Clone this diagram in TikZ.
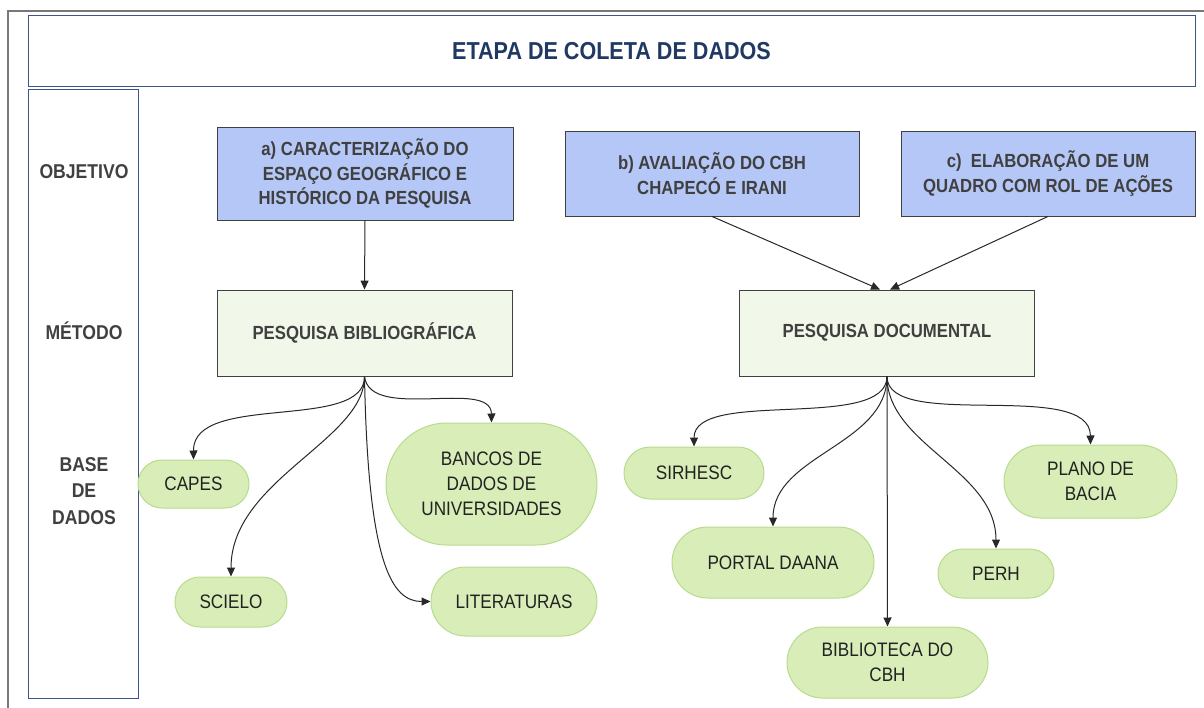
\documentclass[tikz,border=0pt]{standalone}
\usepackage{fontspec}
\setmainfont{Liberation Sans}[FakeStretch=0.88]
\usetikzlibrary{shapes.misc,arrows.meta}
\newcommand\fsz[2]{\fontsize{#1}{#2}\selectfont}
\definecolor{navy}{RGB}{60,85,140}
\definecolor{titlecol}{RGB}{31,56,100}
\definecolor{objblue}{RGB}{180,199,247}
\definecolor{boxgray}{RGB}{64,64,64}
\definecolor{txtgray}{RGB}{64,64,64}
\definecolor{metfill}{RGB}{241,247,233}
\definecolor{pillfill}{RGB}{216,237,184}
\definecolor{pillline}{RGB}{183,221,140}
\definecolor{pilltxt}{RGB}{34,34,34}
\definecolor{arrcol}{RGB}{40,40,40}
\definecolor{framecol}{RGB}{120,120,120}
\begin{document}
\begin{tikzpicture}[x=1pt,y=-1pt,
  frame/.style={draw=navy,line width=1pt,inner sep=0},
  objbox/.style={draw=boxgray,fill=objblue,line width=0.9pt,align=center,text=txtgray,
    font=\fsz{19}{24.5}\bfseries,inner sep=0},
  metbox/.style={draw=boxgray,fill=metfill,line width=0.9pt,align=center,text=txtgray,
    font=\fsz{19}{24.5}\bfseries,inner sep=0,minimum width=295pt,minimum height=86pt},
  pill/.style={rounded rectangle,draw=pillline,fill=pillfill,line width=1pt,align=center,
    text=pilltxt,font=\fsz{19.5}{25},inner sep=0},
  lbl/.style={align=center,text=txtgray,font=\fsz{20}{26.5}\bfseries,inner sep=0},
  arr/.style={draw=arrcol,line width=1pt,-{Triangle[length=9pt,width=8pt]}}]
\useasboundingbox (0,0) rectangle (1204,708);
% outer frame (only top and left visible)
\draw[framecol,line width=1.2pt] (8,720) -- (8,11) -- (1215,11);
% title and left column
\node[frame,minimum width=1167pt,minimum height=71pt,text=titlecol,font=\fsz{24.5}{28}\bfseries] (title) at (611.5,51.5) {ETAPA DE COLETA DE DADOS};
\node[frame,minimum width=110pt,minimum height=608pt] (col) at (83,394) {};
\node[lbl] (lobj) at (84,172) {OBJETIVO};
\node[lbl] (lmet) at (84,331) {MÉTODO};
\node[lbl] (lbase) at (84,491) {BASE\\DE\\DADOS};
% objectives
\node[objbox,minimum width=296pt,minimum height=93pt] (a) at (365,173.5) {a) CARACTERIZAÇÃO DO\\ESPAÇO GEOGRÁFICO E\\HISTÓRICO DA PESQUISA};
\node[objbox,minimum width=294pt,minimum height=85pt] (b) at (712,173.5) {b) AVALIAÇÃO DO CBH\\CHAPECÓ E IRANI};
\node[objbox,minimum width=294pt,minimum height=85pt] (c) at (1048,173.5) {c)\ \ ELABORAÇÃO DE UM\\QUADRO COM ROL DE AÇÕES};
% methods
\node[metbox] (pb) at (364.5,333) {PESQUISA BIBLIOGRÁFICA};
\node[metbox] (pd) at (887,333) {PESQUISA DOCUMENTAL};
% bases (left)
\node[pill,minimum width=111pt,minimum height=48pt] (capes) at (193.5,484) {CAPES};
\node[pill,minimum width=112pt,minimum height=50pt] (scielo) at (231,602) {SCIELO};
\node[pill,minimum width=211pt,minimum height=122pt] (bancos) at (491.5,484) {BANCOS DE\\DADOS DE\\UNIVERSIDADES};
\node[pill,minimum width=166pt,minimum height=69pt] (lit) at (514,601.5) {LITERATURAS};
% bases (right)
\node[pill,minimum width=140pt,minimum height=52pt] (sir) at (694,473) {SIRHESC};
\node[pill,minimum width=202pt,minimum height=71pt] (portal) at (773,562.5) {PORTAL DAANA};
\node[pill,minimum width=201pt,minimum height=71pt] (bib) at (887.5,662.5) {BIBLIOTECA DO\\CBH};
\node[pill,minimum width=116pt,minimum height=49pt] (perh) at (996,573.5) {PERH};
\node[pill,minimum width=173pt,minimum height=73pt] (plano) at (1090.5,481.5) {PLANO DE\\BACIA};
% connectors
\draw[arr] (a.south) -- (pb.north);
\draw[arr] (b.south) -- ([xshift=-7pt]pd.north);
\draw[arr] (c.south) -- ([xshift=3pt]pd.north);
\draw[arr] (pb.south) .. controls (365,432) and (193,392) .. (capes.north);
\draw[arr] (pb.south) .. controls (365,440) and (231,480) .. (scielo.north);
\draw[arr] (pb.south) .. controls (368,565) and (392,601.5) .. (lit.west);
\draw[arr] (pb.south) .. controls (370,422) and (491,378) .. (bancos.north);
\draw[arr] (pd.south) .. controls (887,432) and (694,388) .. (sir.north);
\draw[arr] (pd.south) .. controls (887,445) and (773,455) .. (portal.north);
\draw[arr] (pd.south) -- (bib.north);
\draw[arr] (pd.south) .. controls (887,445) and (996,470) .. (perh.north);
\draw[arr] (pd.south) .. controls (887,432) and (1090,378) .. (plano.north);
\end{tikzpicture}
\end{document}
